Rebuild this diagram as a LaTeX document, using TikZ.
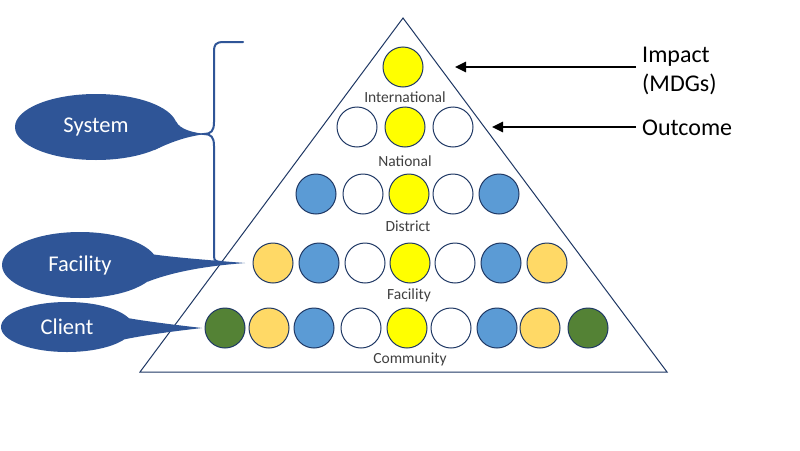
\documentclass[tikz,border=0pt]{standalone}
\usepackage{fontspec}
\setmainfont{Carlito}
\usetikzlibrary{arrows.meta,shapes.geometric}
\definecolor{navy}{HTML}{1F3864}
\definecolor{callblue}{HTML}{2F5597}
\definecolor{cyel}{HTML}{FFFF00}
\definecolor{corange}{HTML}{FFD966}
\definecolor{cblue}{HTML}{5B9BD5}
\definecolor{cgreen}{HTML}{548235}
\definecolor{lbl}{HTML}{404040}
\begin{document}
\begin{tikzpicture}[x=1pt,y=-1pt,
  dot/.style={circle, draw=navy, line width=1pt, minimum size=40pt, inner sep=0pt},
  dy/.style={dot, fill=cyel},
  dor/.style={dot, fill=corange},
  dbl/.style={dot, fill=cblue},
  dgr/.style={dot, fill=cgreen},
  dwh/.style={dot, fill=white},
  lvl/.style={font=\fontsize{15.5}{16}\selectfont, text=lbl, anchor=base, inner sep=0pt},
  big/.style={font=\fontsize{24}{28}\selectfont, anchor=base west, inner sep=0pt},
  callout/.style={ellipse, fill=callblue, text=white, inner sep=0pt, font=\fontsize{22.5}{26}\selectfont},
  pointer/.style={line width=2.5pt, -{Triangle[length=11pt,width=10pt]}},
]
\useasboundingbox (0,0) rectangle (800,450);
\fill[white] (0,0) rectangle (800,450);

% pyramid
\coordinate (apex) at (403,18);
\coordinate (bl) at (140,372);
\coordinate (br) at (667,372);
\draw[navy, line width=1pt, line join=miter] (apex) -- (bl) -- (br) -- cycle;

% row 1
\node[dy] (r1a) at (403,67) {};
\node[lvl] (lint) at (405,102) {International};
% row 2
\node[dwh] (r2a) at (357,127) {};
\node[dy]  (r2b) at (405,127) {};
\node[dwh] (r2c) at (453,127) {};
\node[lvl] (lnat) at (405,166) {National};
% row 3
\node[dbl] (r3a) at (316,194) {};
\node[dwh] (r3b) at (363,194) {};
\node[dy]  (r3c) at (409,194) {};
\node[dwh] (r3d) at (453,194) {};
\node[dbl] (r3e) at (499,194) {};
\node[lvl] (ldis) at (408,231) {District};
% row 4
\node[dor] (r4a) at (273,263) {};
\node[dbl] (r4b) at (319,263) {};
\node[dwh] (r4c) at (365,263) {};
\node[dy]  (r4d) at (410,263) {};
\node[dwh] (r4e) at (455,263) {};
\node[dbl] (r4f) at (501,263) {};
\node[dor] (r4g) at (547,263) {};
\node[lvl] (lfac) at (409,299) {Facility};
% row 5
\node[dgr] (r5a) at (225,328) {};
\node[dor] (r5b) at (269,328) {};
\node[dbl] (r5c) at (314,328) {};
\node[dwh] (r5d) at (361,328) {};
\node[dy]  (r5e) at (407,328) {};
\node[dwh] (r5f) at (451,328) {};
\node[dbl] (r5g) at (497,328) {};
\node[dor] (r5h) at (540,328) {};
\node[dgr] (r5i) at (588,328) {};
\node[lvl] (lcom) at (410,363) {Community};

% right labels and arrows
\node[big] (imp) at (642,62) {Impact};
\node[big] (mdg) at (642,91) {(MDGs)};
\node[big] (outc) at (642,135) {Outcome};
\coordinate (impS) at (636,67);
\coordinate (impE) at (455,67);
\coordinate (outS) at (636,127);
\coordinate (outE) at (492,127);
\draw[pointer] (impS) -- (impE);
\draw[pointer] (outS) -- (outE);

% brace
\coordinate (btop) at (243,42);
\coordinate (btip) at (204,134);
\coordinate (bbot) at (223,262);
\draw[callblue, line width=2pt, line cap=round]
  (btop) -- (224,42) .. controls (215,42) and (214,45) .. (214,52)
  -- (214,122) .. controls (214,131) and (211,134) .. (btip)
  .. controls (211,134) and (214,137) .. (214,146)
  -- (214,256) .. controls (214,261) and (216,262) .. (bbot);

% callouts
\node[callout, minimum width=162pt, minimum height=66pt] (sys) at (96,127) {System};
\coordinate (systip) at (206,134);
\fill[callblue] (sys.4) .. controls (180,130) and (195,133) .. (systip)
  .. controls (190,136) and (175,140) .. (sys.-22) -- cycle;

\node[callout, minimum width=156pt, minimum height=66pt] (fac) at (80,265) {Facility};
\coordinate (factip) at (245,263);
\fill[callblue] (fac.8) .. controls (180,258) and (220,261) .. (factip)
  .. controls (220,265) and (180,269) .. (fac.-14) -- cycle;

\node[callout, minimum width=132pt, minimum height=50pt] (cli) at (67,327) {Client};
\coordinate (clitip) at (202,328);
\fill[callblue] (cli.8) .. controls (150,322) and (185,326) .. (clitip)
  .. controls (185,330) and (150,334) .. (cli.-12) -- cycle;
\end{tikzpicture}
\end{document}
